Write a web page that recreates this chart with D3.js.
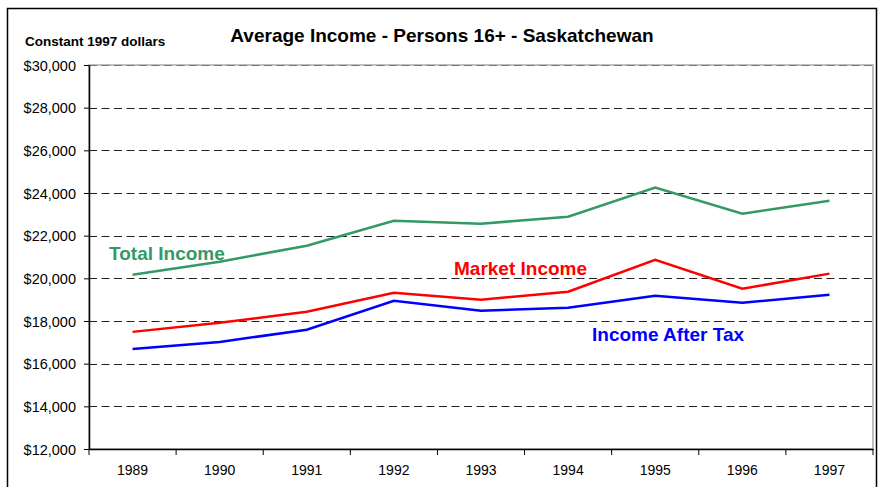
<!DOCTYPE html>
<html>
<head>
<meta charset="utf-8">
<script src="https://cdn.jsdelivr.net/npm/d3@7"></script>
<style>
  body { margin: 0; background: #fff; }
  svg { font-family: Arial, "Liberation Sans", sans-serif; }
  .grid line { stroke-dasharray: 8, 4.5; }
  .axis path, .axis line { stroke: #000; }
  .axis text { fill: #000; font-size: 14px; }
  .series { fill: none; stroke-width: 2.5; }
</style>
</head>
<body>
<div id="container"></div>
<script>
var years = ["1989", "1990", "1991", "1992", "1993", "1994", "1995", "1996", "1997"];
var totalIncome = [20170, 20780, 21530, 22700, 22560, 22890, 24250, 23030, 23640];
var marketIncome = [17490, 17920, 18430, 19320, 19000, 19370, 20870, 19510, 20220];
var afterTax = [16690, 17020, 17590, 18950, 18480, 18620, 19180, 18850, 19230];
var yTicks = [12000, 14000, 16000, 18000, 20000, 22000, 24000, 26000, 28000, 30000];

var width = 879, height = 487;
var margin = { top: 65, right: 6, bottom: 38, left: 89 };

var container = d3.select("#container");
var chart = container
  .append("svg")
    .attr("width", width)
    .attr("height", height);

// outer frame
chart.append("rect")
  .attr("x", 7.5)
  .attr("y", 8.5)
  .attr("width", 869)
  .attr("height", 490)
  .attr("fill", "none")
  .attr("stroke", "#000")
  .attr("stroke-width", 1.5);

var x = d3.scaleBand()
  .domain(years)
  .range([margin.left, width - margin.right]);
var y = d3.scaleLinear()
  .domain([12000, 30000])
  .range([height - margin.bottom, margin.top]);

// plot area border (gray)
chart.append("rect")
  .attr("x", margin.left)
  .attr("y", y(30000))
  .attr("width", width - margin.right - margin.left)
  .attr("height", y(12000) - y(30000))
  .attr("fill", "none")
  .attr("stroke", "#aaa")
  .attr("stroke-width", 1.5);

var grid = chart.append("g")
  .classed("grid", true);
grid.selectAll("line")
  .data(yTicks.slice(1))
  .enter().append("line")
    .attr("x1", margin.left)
    .attr("x2", width - margin.right)
    .attr("y1", function(d) { return Math.round(y(d)) + 0.5; })
    .attr("y2", function(d) { return Math.round(y(d)) + 0.5; })
    .attr("stroke", function(d) { return d == 30000 ? "#777" : "#222"; });

var xAxis = d3.axisBottom(x)
  .tickSizeOuter(0)
  .tickSizeInner(0)
  .tickPadding(16);
var xAxisGroup = chart.append("g")
  .classed("axis", true)
  .attr("transform", "translate(0, " + y(12000) + ")")
  .call(xAxis);
xAxisGroup.select(".domain").attr("stroke-width", 1.5);
// ticks between categories
xAxisGroup.selectAll(".sep")
  .data(years)
  .enter().append("line")
    .classed("sep", true)
    .attr("x1", function(d) { return x(d); })
    .attr("x2", function(d) { return x(d); })
    .attr("y1", 0)
    .attr("y2", 6);
xAxisGroup.append("line")
  .attr("x1", width - margin.right)
  .attr("x2", width - margin.right)
  .attr("y1", 0)
  .attr("y2", 6);

var yAxis = d3.axisLeft(y)
  .tickValues(yTicks)
  .tickFormat(d3.format("$,.0f"))
  .tickSizeOuter(0)
  .tickSizeInner(5)
  .tickPadding(8);
var yAxisGroup = chart.append("g")
  .classed("axis", true)
  .attr("transform", "translate(" + margin.left + ", 0)")
  .call(yAxis);
yAxisGroup.select(".domain").attr("stroke-width", 1.5);
yAxisGroup.selectAll("text")
  .attr("dy", "0.36em")
  .style("font-size", "14.5px");

var line = d3.line()
  .x(function(d, i) { return x(years[i]) + x.bandwidth() / 2; })
  .y(function(d) { return y(d); });

var series = [
  { values: totalIncome, color: "#339966" },
  { values: marketIncome, color: "#ff0000" },
  { values: afterTax, color: "#0000ff" }
];
chart.selectAll(".series")
  .data(series)
  .enter().append("path")
    .classed("series", true)
    .attr("stroke", function(d) { return d.color; })
    .attr("d", function(d) { return line(d.values); });

// labels
chart.append("text")
  .attr("x", 109)
  .attr("y", 260)
  .attr("fill", "#339966")
  .style("font-size", "19px")
  .style("font-weight", "bold")
  .text("Total Income");
chart.append("text")
  .attr("x", 454)
  .attr("y", 275)
  .attr("fill", "#ff0000")
  .style("font-size", "19px")
  .style("font-weight", "bold")
  .text("Market Income");
chart.append("text")
  .attr("x", 592)
  .attr("y", 341)
  .attr("fill", "#0000ff")
  .style("font-size", "19px")
  .style("font-weight", "bold")
  .text("Income After Tax");

chart.append("text")
  .attr("x", 442)
  .attr("y", 42)
  .attr("text-anchor", "middle")
  .style("font-size", "19px")
  .style("font-weight", "bold")
  .text("Average Income - Persons 16+ - Saskatchewan");
chart.append("text")
  .attr("x", 25)
  .attr("y", 46)
  .style("font-size", "13.5px")
  .style("font-weight", "bold")
  .text("Constant 1997 dollars");
</script>
</body>
</html>
